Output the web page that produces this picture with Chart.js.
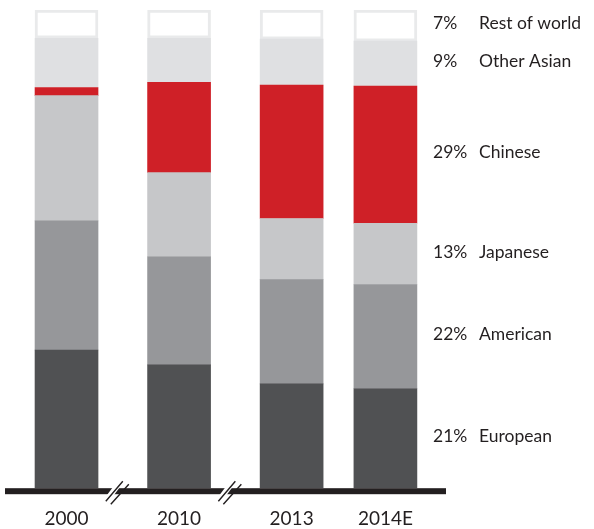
<!DOCTYPE html>
<html>
<head>
<meta charset="utf-8">
<script src="https://cdn.jsdelivr.net/npm/chart.js@4"></script>
<style>
  html, body { margin: 0; padding: 0; background: #fff; }
  #wrap { width: 594px; height: 529px; position: relative; }
</style>
</head>
<body>
<div id="wrap"><canvas id="chart"></canvas></div>
<script>
// ---- data (shares in %)
const years = ["2000", "2010", "2013", "2014E"];
// slot positions along the broken time axis
const slots = [0, 1.2, 2.4, 3.4];
const european   = [28.9, 25.8, 21.8, 20.8];
const american   = [27.0, 22.6, 21.8, 21.8];
const japanese   = [26.2, 17.6, 12.8, 12.8];
const chinese    = [1.7, 18.9, 27.9, 28.7];
const otherAsian = [10.3, 9.2, 9.6, 9.4];
const restWorld  = [5.9, 5.9, 6.1, 6.5];
const sideLabels = ["21%", "22%", "13%", "29%", "9%", "7%"];
const seriesNames = ["European", "American", "Japanese", "Chinese", "Other Asian", "Rest of world"];

const INK = "#231f20";
const FONT = "Lato, 'Open Sans', sans-serif";

function pts(arr) { return arr.map((v, i) => ({ x: slots[i], y: v })); }

function ds(name, vals, color, extra) {
  return Object.assign({ label: name, data: pts(vals), backgroundColor: color,
    barThickness: 63, borderWidth: 0 }, extra || {});
}

// axis line + break marks + right-hand labels
const decor = {
  id: "decor",
  afterDatasetsDraw(chart) {
    const { ctx, chartArea: ca, scales: { x } } = chart;
    ctx.save();
    const y0 = ca.bottom;
    ctx.fillStyle = INK;
    ctx.fillRect(ca.left, y0, ca.right - ca.left, 6);

    // breaks between 2000/2010 and 2010/2013
    [0, 1].forEach(i => {
      const c = (x.getPixelForValue(slots[i]) + x.getPixelForValue(slots[i + 1])) / 2 - 5;
      const yc = y0 + 3;
      ctx.fillStyle = "#fff";
      ctx.beginPath();
      ctx.moveTo(c - 11, yc + 4); ctx.lineTo(c - 5, yc - 4);
      ctx.lineTo(c + 2, yc - 4); ctx.lineTo(c - 4, yc + 4);
      ctx.closePath(); ctx.fill();
      ctx.strokeStyle = INK; ctx.lineWidth = 1.4;
      ctx.beginPath();
      ctx.moveTo(c - 12, yc + 10); ctx.lineTo(c + 5, yc - 10);
      ctx.moveTo(c - 7, yc + 13); ctx.lineTo(c + 11, yc - 7);
      ctx.stroke();
    });

    // labels next to the last bar
    ctx.fillStyle = INK;
    ctx.font = "17.5px " + FONT;
    ctx.textBaseline = "middle";
    ctx.textAlign = "left";
    chart.data.datasets.forEach((d, di) => {
      const el = chart.getDatasetMeta(di).data[slots.length - 1];
      const yc = (el.y + el.base) / 2 - 2;
      const pct = sideLabels[di];
      ctx.fillText(pct, 433, yc);
      const nx = Math.max(479, 433 + ctx.measureText(pct).width + 5);
      ctx.fillText(seriesNames[di], nx, yc);
    });
    ctx.restore();
  }
};

new Chart(document.getElementById("chart"), {
  type: "bar",
  data: {
    datasets: [
      ds("European", european, "#505153"),
      ds("American", american, "#96979a"),
      ds("Japanese", japanese, "#c6c7c9"),
      ds("Chinese", chinese, "#cf2027"),
      ds("Other Asian", otherAsian, "#dfe0e2"),
      ds("Rest of world", restWorld, "#ffffff", { borderColor: "#e9eaeb", borderWidth: 3, borderSkipped: false }),
    ],
  },
  options: {
    responsive: true, maintainAspectRatio: false, animation: false,
    layout: { padding: { left: 5, right: 148, top: 10, bottom: -20 } },
    plugins: { legend: { display: false }, tooltip: { enabled: false } },
    scales: {
      x: {
        type: "linear", stacked: true, offset: false,
        min: -0.656, max: 4.046,
        grid: { display: false, drawTicks: false },
        border: { display: false },
        afterBuildTicks: (s) => { s.ticks = slots.map(v => ({ value: v })); },
        ticks: { autoSkip: false, padding: 19, color: INK, font: { family: FONT, size: 19 },
          maxRotation: 0, callback: (v, i) => years[i] },
      },
      y: { stacked: true, display: false, min: 0, max: 100 },
    },
  },
  plugins: [decor],
});
</script>
</body>
</html>
